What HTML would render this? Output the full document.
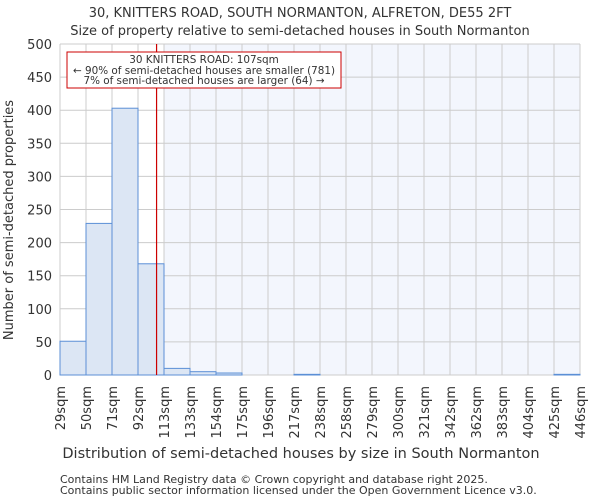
<!DOCTYPE html>
<html><head><meta charset="utf-8"><style>
body{margin:0;background:#fff;font-family:"DejaVu Sans","Liberation Sans",sans-serif}
svg text{font-family:"DejaVu Sans","Liberation Sans",sans-serif;fill:#333}
</style></head><body>
<svg id="chart" width="600" height="500">
<text x="300" y="17" font-size="13" text-anchor="middle">30, KNITTERS ROAD, SOUTH NORMANTON, ALFRETON, DE55 2FT</text>
<text x="300" y="35" font-size="13" text-anchor="middle">Size of property relative to semi-detached houses in South Normanton</text>
<g id="plot"></g>
<text x="301" y="458" font-size="14.5" text-anchor="middle">Distribution of semi-detached houses by size in South Normanton</text>
<text transform="translate(13,220) rotate(-90)" font-size="13" text-anchor="middle">Number of semi-detached properties</text>
<text x="60" y="483" font-size="11">Contains HM Land Registry data © Crown copyright and database right 2025.</text>
<text x="60" y="494" font-size="11">Contains public sector information licensed under the Open Government Licence v3.0.</text>
</svg>
<script>
const binLabels=["29sqm","50sqm","71sqm","92sqm","113sqm","133sqm","154sqm","175sqm","196sqm","217sqm","238sqm","258sqm","279sqm","300sqm","321sqm","342sqm","362sqm","383sqm","404sqm","425sqm","446sqm"];
const binEdges=[29,50,71,92,113,133,154,175,196,217,238,258,279,300,321,342,362,383,404,425,446];
const counts=[51,229,403,168,10,5,3,0,0,1,0,0,0,0,0,0,0,0,0,1];
const yTicks=[0,50,100,150,200,250,300,350,400,450,500];
const propertySize=107;
const highlightFrom=4;
const NS="http://www.w3.org/2000/svg";
const L=60,R=580,T=44,B=375,n=counts.length,bw=(R-L)/n;
const xi=i=>L+i*bw;
const xv=v=>{for(let i=0;i<binEdges.length-1;i++){if(v<=binEdges[i+1])return xi(i)+bw*(v-binEdges[i])/(binEdges[i+1]-binEdges[i]);}return R;};
const y=v=>B-(B-T)*v/500;
const g=document.getElementById('plot');
function mk(t,a){const e=document.createElementNS(NS,t);for(const k in a)e.setAttribute(k,a[k]);g.appendChild(e);return e;}
let e=mk('rect',{x:xi(highlightFrom),y:T,width:R-xi(highlightFrom),height:B-T,fill:'#f3f6fd'});


yTicks.forEach(t=>{
 let l=mk('line',{x1:L,x2:R,y1:y(t),y2:y(t),stroke:'#cccccc'});
 
 
 let tx=mk('text',{x:L-8,y:y(t)+5,'font-size':13,'text-anchor':'end'});tx.textContent=t;
 
 
});
binLabels.forEach((lb,i)=>{
 let l=mk('line',{x1:xi(i),x2:xi(i),y1:T,y2:B,stroke:'#cccccc'});
 
 
 let tx=mk('text',{transform:`translate(${xi(i)+5},386) rotate(-90)`,'font-size':13,'text-anchor':'end'});tx.textContent=lb;
 
 
});
counts.forEach((c,i)=>{
 if(c<=0)return;
 let r=mk('rect',{x:xi(i),y:y(c),width:bw,height:B-y(c),fill:'#dce6f4',stroke:'#5b8fd6','stroke-width':1});
 
 
});
const px=xv(propertySize);
e=mk('line',{x1:px,x2:px,y1:T,y2:B,stroke:'#cc0000','stroke-width':1.2});


e=mk('rect',{x:67,y:52,width:274,height:36,fill:'#fff',stroke:'#cc0000','stroke-width':1});


[["30 KNITTERS ROAD: 107sqm",63],["← 90% of semi-detached houses are smaller (781)",74],["7% of semi-detached houses are larger (64) →",84]].forEach(([s,yy])=>{
 let t=mk('text',{x:204,y:yy,'font-size':10.4,'text-anchor':'middle'});t.textContent=s;
 
 
});
</script>
</body></html>
